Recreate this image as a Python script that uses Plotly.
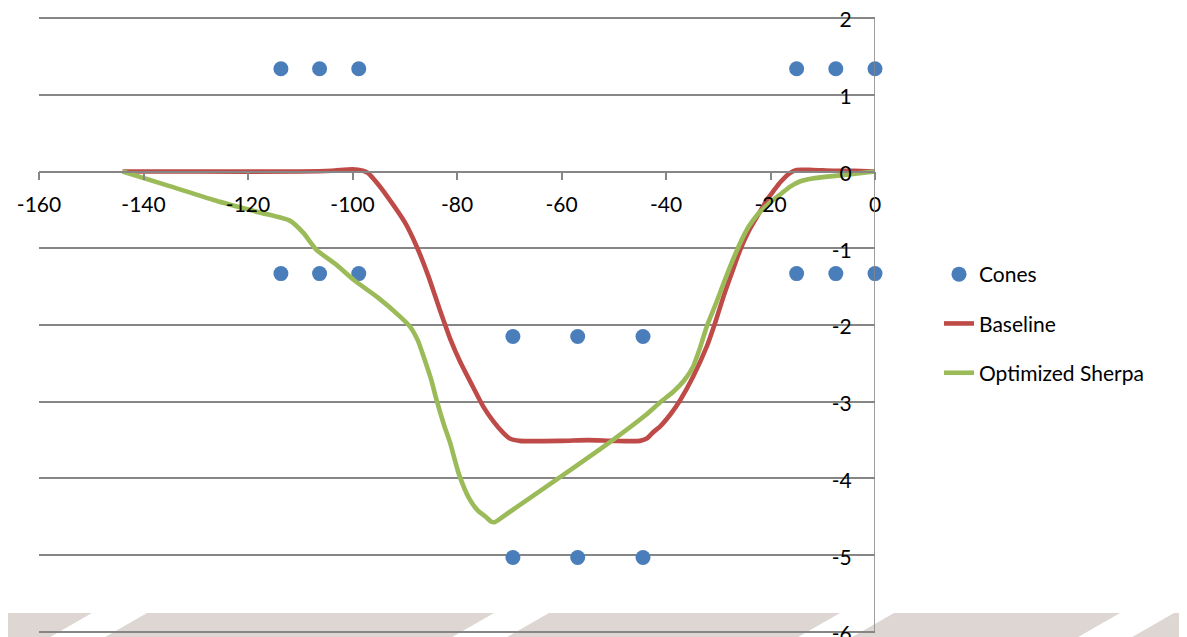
import plotly.graph_objects as go

# ---- data ----
cone_x = [-113.7, -106.3, -98.8, -15.0, -7.5, 0.0,
          -113.7, -106.3, -98.8, -15.0, -7.5, 0.0,
          -69.3, -56.9, -44.4,
          -69.3, -56.9, -44.4]
cone_y = [1.34, 1.34, 1.34, 1.34, 1.34, 1.34,
          -1.33, -1.33, -1.33, -1.33, -1.33, -1.33,
          -2.15, -2.15, -2.15,
          -5.03, -5.03, -5.03]

baseline_x = [-144, -130, -110, -104, -100, -98, -97, -95.3, -93.4, -90, -87.7, -85.5, -83.3,
              -81.3, -79.4, -77, -75, -73, -71.1, -69.9, -68, -60, -55, -50, -45, -43.7,
              -42.5, -41.1, -39, -37.3, -34.8, -32.2, -30.5, -29.0, -27.4, -25.8, -24.2,
              -22.6, -20.7, -19.5, -18, -16.3, -15, -12, -8, -4, 0]
baseline_y = [0, 0, 0, 0.01, 0.03, 0.01, -0.02, -0.15, -0.32, -0.66, -0.98, -1.36, -1.80,
              -2.18, -2.48, -2.8, -3.06, -3.26, -3.41, -3.48, -3.51, -3.51, -3.50, -3.51, -3.51, -3.48,
              -3.40, -3.32, -3.15, -2.98, -2.67, -2.28, -1.95, -1.63, -1.32, -1.02, -0.78,
              -0.59, -0.37, -0.26, -0.13, -0.02, 0.02, 0.02, 0.01, 0.01, 0]

sherpa_x = [-144, -135, -126.6, -118, -112, -109.4, -106.9, -103, -99.8, -95, -90.9, -89,
            -87.5, -86.4, -85, -83.9, -82.5, -81.3, -79.6, -77.6, -76, -74.5, -73.5, -72.8,
            -70, -60, -50, -44, -41, -38.6, -36.5, -34.8, -33.5, -32.2, -30.5, -29, -27.5,
            -25.8, -24.2, -22.6, -21, -19.5, -17.8, -16.3, -14.4, -12, -6.7, 0]
sherpa_y = [0, -0.19, -0.37, -0.53, -0.64, -0.80, -1.02, -1.22, -1.41, -1.65, -1.89, -2.02,
            -2.2, -2.41, -2.7, -2.98, -3.3, -3.54, -3.95, -4.27, -4.42, -4.50, -4.56, -4.57,
            -4.44, -3.97, -3.49, -3.18, -3.0, -2.87, -2.72, -2.54, -2.3, -2.02, -1.73, -1.46, -1.2,
            -0.93, -0.72, -0.57, -0.46, -0.37, -0.28, -0.2, -0.13, -0.09, -0.05, 0]

x_ticks = [-160, -140, -120, -100, -80, -60, -40, -20, 0]
x_ticktext = ["-160", "-140", "-120", "-100", "-80", "-60", "-40", "-20", "0"]
y_ticks = [-6, -5, -4, -3, -2, -1, 0, 1, 2]
y_ticktext = ["-6", "-5", "-4", "-3", "-2", "-1", "0", "1", "2"]

# ---- layout geometry (page offset of 8px body margin compensated) ----
OFF = 8
W, H = 1187 - OFF, 637 - OFF
YR = [-6.04, 2.04]
UNIT = 76.7                      # pixels per y unit
EXT = (YR[1] - 2) * UNIT         # extra pixels added by range padding
L, R = 39 - OFF, 312
T = round(18 - EXT - OFF)
B = round(H - (632 + EXT - OFF))
PW, PH = W - L - R, H - T - B


def px(xp):
    # page pixel x -> paper fraction
    return (xp - OFF - L) / PW


def py(yp):
    # page pixel y -> paper fraction
    return (H - B - (yp - OFF)) / PH


FONT = "Lato, 'Open Sans', sans-serif"
GRID = "#868686"

fig = go.Figure()
fig.add_trace(go.Scatter(x=cone_x, y=cone_y, mode="markers", name="Cones",
                         marker=dict(size=15, color="#4A7EBB"), cliponaxis=False,
                         legendgroup="a"))
fig.add_trace(go.Scatter(x=baseline_x, y=baseline_y, mode="lines", name="Baseline",
                         line=dict(color="#BE4B48", width=4.6, shape="spline", smoothing=0.6),
                         legendgroup="b"))
fig.add_trace(go.Scatter(x=sherpa_x, y=sherpa_y, mode="lines", name="Optimized Sherpa",
                         line=dict(color="#9BBB59", width=4.6, shape="spline", smoothing=0.6),
                         legendgroup="c"))

# decorative background stripes at bottom
stripes = [(-60, 92), (147, 494), (549, 840), (894, 1120), (1174, 1300)]
shapes = []
for a, b in stripes:
    ytop, ybot, sh = 613, 640, 47
    path = (f"M{px(a)},{py(ytop)} L{px(b)},{py(ytop)} "
            f"L{px(b - sh)},{py(ybot)} L{px(a - sh)},{py(ybot)} Z")
    shapes.append(dict(type="path", xref="paper", yref="paper", path=path,
                       fillcolor="#DDD6D3", line=dict(width=0), layer="below"))

fig.update_layout(
    width=W, height=H,
    margin=dict(l=L, r=R, t=T, b=B, autoexpand=False),
    paper_bgcolor="white",
    plot_bgcolor="rgba(0,0,0,0)",
    font=dict(family=FONT, size=21, color="black"),
    shapes=shapes,
    showlegend=True,
    legend=dict(x=px(939), y=py(254), xanchor="left", yanchor="top",
                tracegroupgap=19, traceorder="grouped",
                bgcolor="rgba(0,0,0,0)", font=dict(family=FONT, size=21)),
    xaxis=dict(range=[-160, 0], domain=[0, 1], anchor="free",
               position=(0 - YR[0]) / (YR[1] - YR[0]), automargin=False,
               tickvals=x_ticks, ticktext=x_ticktext, showgrid=False, zeroline=False,
               showline=True, linecolor=GRID, linewidth=1.6,
               ticks="outside", ticklen=8, tickcolor=GRID, tickwidth=1.6,
               ticklabelstandoff=6),
    yaxis=dict(range=YR, domain=[0, 1], anchor="free", position=1.0, side="left",
               automargin=False,
               tickvals=y_ticks, ticktext=y_ticktext, showgrid=True, gridcolor=GRID,
               gridwidth=1.6, zeroline=False, showline=False,
               ticks="outside", ticklen=7, tickcolor=GRID, tickwidth=1.6,
               ticklabelstandoff=12, ticklabelshift=2, ticklabeloverflow="allow"),
)

# y axis line exactly spanning -6..2 at x=0, drawn via the axis' own data coords
fig.add_shape(type="line", xref="x", yref="y", x0=0, x1=0, y0=y_ticks[0], y1=y_ticks[-1],
              line=dict(color=GRID, width=1.6))

fig.write_html("out.html")
